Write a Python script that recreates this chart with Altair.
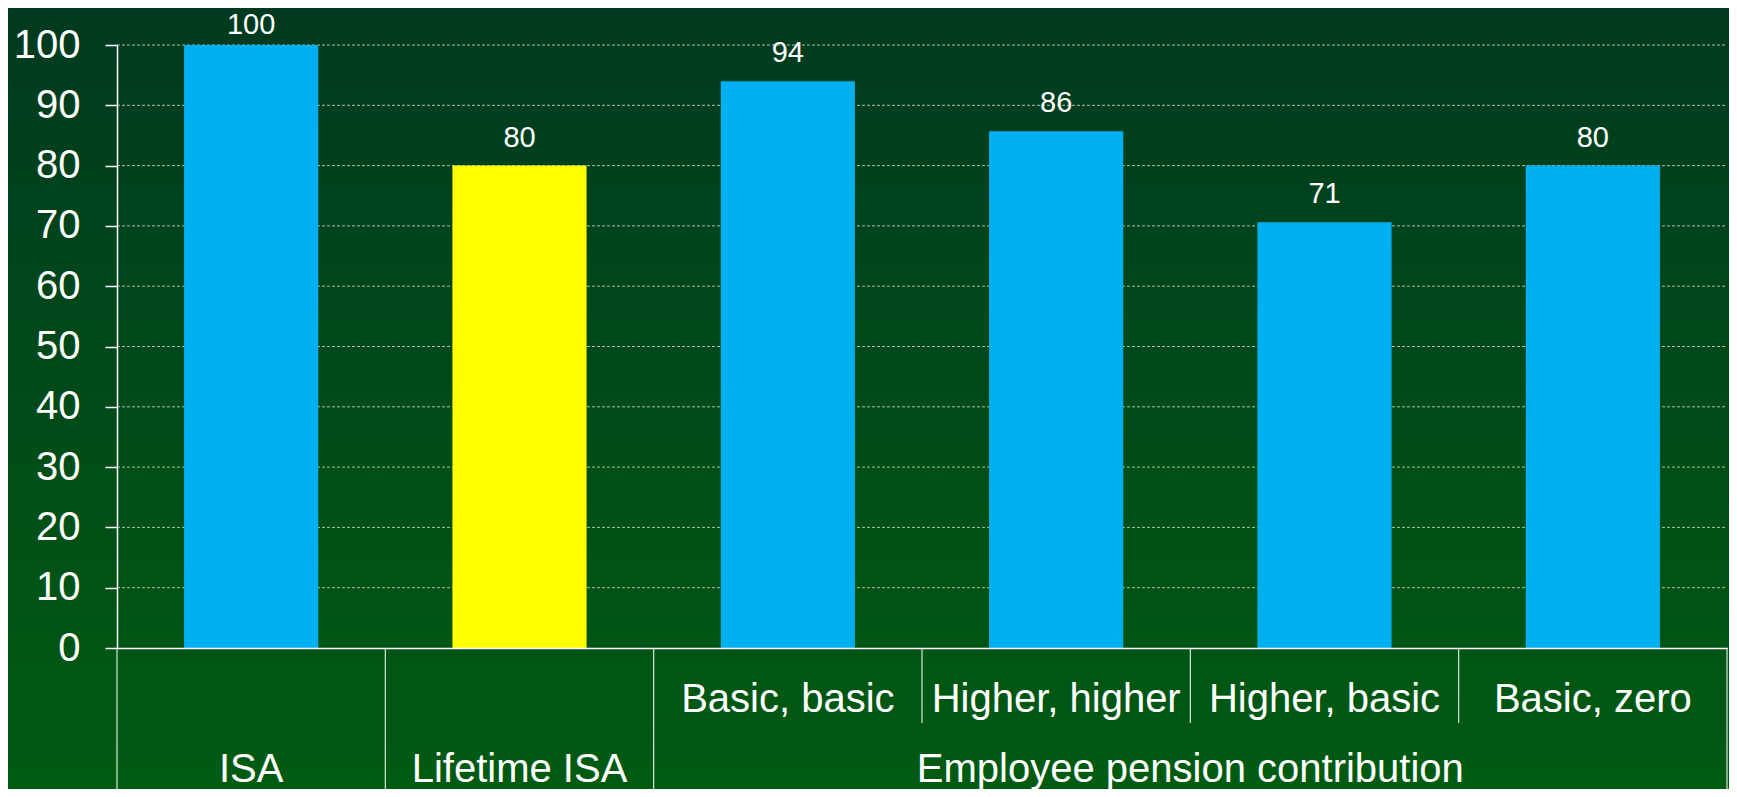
import altair as alt
import pandas as pd

# ---- data ----
categories = ["ISA", "Lifetime ISA", "Basic, basic", "Higher, higher", "Higher, basic", "Basic, zero"]
values = [100, 80, 94, 85.7, 70.6, 80]
bar_kind = ["isa", "lisa", "isa", "isa", "isa", "isa"]
sub_labels = ["Basic, basic", "Higher, higher", "Higher, basic", "Basic, zero"]
groups_single = ["ISA", "Lifetime ISA"]
group_wide = "Employee pension contribution"
group_wide_anchor = "Higher, basic"
long_dividers = ["ISA", "Lifetime ISA", "Basic, basic"]
short_dividers = ["Higher, higher", "Higher, basic", "Basic, zero"]
y_ticks = list(range(0, 101, 10))

W, H = 1610, 603
BG_TOP, BG_BOTTOM = "#003a20", "#005b12"
BLUE, YELLOW = "#00b0f0", "#ffff00"
FONT = "Liberation Sans"

bars_df = pd.DataFrame({"category": categories, "value": values, "kind": bar_kind})

xscale = alt.Scale(domain=categories, paddingInner=0, paddingOuter=0)
xaxis = alt.Axis(labels=False, ticks=False, title=None, domain=True,
                 domainColor="white", domainWidth=1.5, grid=False, zindex=1)
yscale = alt.Scale(domain=[0, 100], nice=False)
yaxis = alt.Axis(values=y_ticks, title=None, grid=False, domainColor="white", domainWidth=1.5,
                 tickColor="white", tickSize=12, tickWidth=1.5, labelColor="white",
                 labelFontSize=40, labelFont=FONT, labelPadding=25, zindex=1)


def xenc(band=0.5):
    return alt.X("category:N", scale=xscale, axis=xaxis, bandPosition=band)


bg = alt.Chart(alt.Data(values=[{"a": 1}])).mark_rect(
    color=alt.LinearGradient(
        gradient="linear",
        stops=[alt.GradientStop(color=BG_TOP, offset=0),
               alt.GradientStop(color=BG_BOTTOM, offset=1)],
        x1=0, x2=0, y1=0, y2=1),
).encode(x=alt.value(-109), x2=alt.value(W + 2), y=alt.value(-37), y2=alt.value(H + 141))

grid = alt.Chart(pd.DataFrame({"tick": y_ticks[1:]})).mark_rule(
    color="#a9c0ae", strokeDash=[3, 2], strokeWidth=1).encode(
    y=alt.Y("tick:Q", scale=yscale, axis=yaxis), x=alt.value(0), x2=alt.value(W))

bars = alt.Chart(bars_df).mark_bar(width=alt.RelativeBandSize(0.5)).encode(
    x=xenc(),
    y=alt.Y("value:Q", scale=yscale, axis=yaxis),
    color=alt.Color("kind:N", scale=alt.Scale(domain=["isa", "lisa"], range=[BLUE, YELLOW]), legend=None),
)

value_labels = alt.Chart(bars_df).transform_calculate(
    label_y="min(datum.value, 98.6)"
).mark_text(font=FONT, fontSize=29, color="white", baseline="alphabetic", dy=-19).encode(
    x=xenc(),
    y=alt.Y("label_y:Q", scale=yscale, axis=yaxis),
    text=alt.Text("value:Q", format=".0f"),
)

long_df = pd.DataFrame({"category": long_dividers})
short_df = pd.DataFrame({"category": short_dividers})
end_df = pd.DataFrame({"category": [categories[-1]]})

rule_style = dict(color="white", strokeWidth=1.2, opacity=0.85)
long_rules = alt.Chart(long_df).mark_rule(**rule_style).encode(
    x=xenc(0), y=alt.value(H), y2=alt.value(H + 160))
end_rule = alt.Chart(end_df).mark_rule(**rule_style).encode(
    x=xenc(1), y=alt.value(H), y2=alt.value(H + 160))
short_rules = alt.Chart(short_df).mark_rule(**rule_style).encode(
    x=xenc(0), y=alt.value(H), y2=alt.value(H + 75))

sub_text = alt.Chart(pd.DataFrame({"category": sub_labels})).mark_text(
    font=FONT, fontSize=40, color="white", baseline="alphabetic").encode(
    x=xenc(), y=alt.value(H + 64), text="category:N")

grp_text = alt.Chart(pd.DataFrame({"category": groups_single})).mark_text(
    font=FONT, fontSize=40, color="white", baseline="alphabetic").encode(
    x=xenc(), y=alt.value(H + 134), text="category:N")

wide_text = alt.Chart(pd.DataFrame({"category": [group_wide_anchor], "label": [group_wide]})).mark_text(
    font=FONT, fontSize=40, color="white", baseline="alphabetic").encode(
    x=xenc(0), y=alt.value(H + 134), text="label:N")

chart = alt.layer(bg, grid, bars, value_labels, long_rules, end_rule, short_rules,
                  sub_text, grp_text, wide_text).properties(
    width=W, height=H,
    autosize=alt.AutoSizeParams(type="none"),
    padding={"left": 109, "top": 37, "right": 2, "bottom": 141},
    background=BG_BOTTOM,
).configure_view(stroke=None)

chart.save("out.html", embed_options={"renderer": "svg", "actions": False})
